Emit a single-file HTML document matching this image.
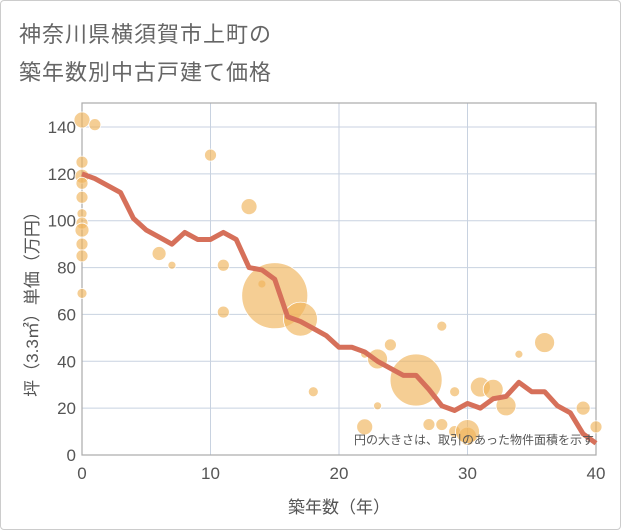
<!DOCTYPE html>
<html><head><meta charset="utf-8"><style>
body{margin:0;background:#fff;}
#wrap{position:relative;width:619px;height:528px;border:1px solid #ccc;border-radius:4px;overflow:hidden;background:#fff;}
.t{position:absolute;left:18px;font:22px "Liberation Sans","Noto Sans CJK JP",sans-serif;color:#666;letter-spacing:1px;}
svg text{font-family:"Liberation Sans","Noto Sans CJK JP",sans-serif;}
</style></head><body>
<div id="wrap">
<div class="t" style="top:16px">神奈川県横須賀市上町の</div>
<div class="t" style="top:54px">築年数別中古戸建て価格</div>
<svg id="c" width="621" height="530" style="position:absolute;left:-1px;top:-1px"></svg>
</div>
<script>
const lineYears=[0,1,2,3,4,5,6,7,8,9,10,11,12,13,14,15,16,17,18,19,20,21,22,23,24,25,26,27,28,29,30,31,32,33,34,35,36,37,38,39,40];
const lineValues=[120,118,115,112,101,96,93,90,95,92,92,95,92,80,79,75,59,57,54,51,46,46,44,40,37,34,34,28,21,19,22,20,24,25,31,27,27,21,18,9,5];
const bubX=[0,1,0,0,0,0,0,0,0,0,0,0,10,7,6,11,11,13,14,15,17,18,22,23,24,22,23,26,28,29,28,27,29,30,30,31,32,33,34,36,39,40];
const bubY=[143,141,125,119,116,110,103,99,96,90,85,69,128,81,86,81,61,106,73,68,58,27,43,41,47,12,21,32,55,27,13,13,10,8,10,29,28,21,43,48,20,12];
const bubR=[8,6,6,7,6,6,5,6,7,6,6,5,6,4,7,6,6,8,4,33,17,5,4,10,6,8,4,26,5,5,6,6,6,9,12,10,10,10,4,10,7,6];
const xTicks=[0,10,20,30,40];
const yTicks=[0,20,40,60,80,100,120,140];
const L=82,R=596,T=103,B=455;
const sx=v=>L+(R-L)*v/40, sy=v=>B-(B-127)*v/140;
const svg=document.getElementById('c');const NS='http://www.w3.org/2000/svg';
function mk(tag,a,p){const e=document.createElementNS(NS,tag);for(const k in a)e.setAttribute(k,a[k]);(p||svg).appendChild(e);return e;}
yTicks.forEach(v=>{
 const g=mk('line',{x1:L,x2:R,y1:sy(v),y2:sy(v),stroke:'#c8d2e0','stroke-width':1});
 
 
 const t=mk('text',{x:L-6,y:sy(v)+6,'text-anchor':'end','font-size':17,fill:'#555'});t.textContent=v;
 
 
});
xTicks.forEach(v=>{
 const g=mk('line',{x1:sx(v),x2:sx(v),y1:T,y2:B,stroke:'#c8d2e0','stroke-width':1});
 
 
 const t=mk('text',{x:sx(v),y:B+24,'text-anchor':'middle','font-size':17,fill:'#555'});t.textContent=v;
 
 
});
const fr=mk('rect',{x:L,y:T,width:R-L,height:B-T,fill:'none',stroke:'#aaa','stroke-width':1.2});


bubX.forEach((x,i)=>{
 const c=mk('circle',{cx:sx(x),cy:sy(bubY[i]),r:bubR[i],fill:'rgba(240,180,90,0.65)',stroke:'#fff','stroke-width':0.8});
 
 
});
const p=mk('polyline',{points:lineYears.map((y,i)=>sx(y)+','+sy(lineValues[i])).join(' '),fill:'none',stroke:'#d6705a','stroke-width':5,'stroke-linejoin':'round'});


const n=mk('text',{x:594,y:444,'text-anchor':'end','font-size':12,fill:'#555'});n.textContent='円の大きさは、取引のあった物件面積を示す';


const xt=mk('text',{x:339,y:513,'text-anchor':'middle','font-size':17,fill:'#555'});xt.textContent='築年数（年）';


const yt=mk('text',{x:0,y:0,'text-anchor':'middle','font-size':17,fill:'#555',transform:'translate(38,300) rotate(-90)'});yt.textContent='坪（3.3㎡）単価（万円）';


</script>
</body></html>
